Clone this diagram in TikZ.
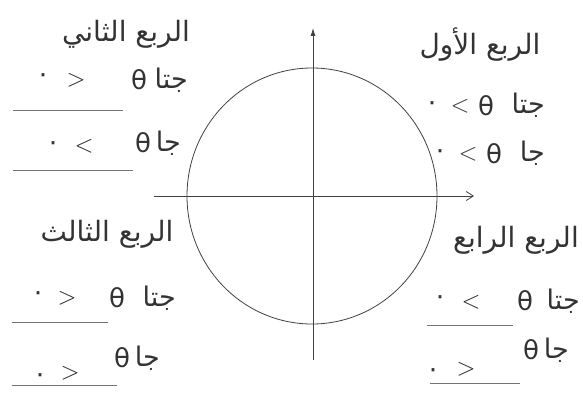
\documentclass[tikz,border=0pt]{standalone}
\usepackage{fontspec}
\newfontfamily\arabicfont[Script=Arabic]{DejaVu Sans}
\newfontfamily\symfont{DejaVu Sans}
\TeXXeTstate=1
\usetikzlibrary{arrows.meta}

\begin{document}
\begin{tikzpicture}[x=1pt,y=-1pt,
    title/.style={font=\arabicfont\fontsize{28}{30}\selectfont, text=black!80, inner sep=0pt},
    fn/.style={font=\arabicfont\fontsize{27}{29}\selectfont, text=black!80, inner sep=0pt, anchor=east},
    sym/.style={font=\symfont\fontsize{26}{28}\selectfont, text=black!80, inner sep=0pt},
    rel/.style={font=\fontsize{24}{26}\selectfont, text=black!80, inner sep=0pt},
    answer/.style={font=\fontsize{34}{36}\selectfont, text=black!85, inner sep=0pt},
    blank/.style={draw=black!55, line width=0.7pt}]

    \useasboundingbox (0,0) rectangle (583,396);

    % Circle and axes
    \coordinate (O) at (312,196);
    \draw[black!75, line width=0.8pt] (O) ellipse (125 and 128);
    \draw[black!75, line width=0.8pt, -{Straight Barb[length=7pt,width=9pt]}] (154,196) -- (474,196);
    \draw[black!75, line width=0.8pt, -{Latex[length=8pt,width=5pt]}] (313,360) -- (313,28);

    % First quadrant
    \node[title] (q1) at (480,45) {\beginR الربع الأول\endR};
    \node[fn] (q1cos) at (545,105) {\beginR جتا\endR};
    \node[sym] (q1cost) at (486,106) {θ};
    \node[rel] (q1cosr) at (460,106) {$<$};
    \node[sym] (q1cosz) at (432,106) {٠};
    \node[fn] (q1sin) at (545,153) {\beginR جا\endR};
    \node[sym] (q1sint) at (494,154) {θ};
    \node[rel] (q1sinr) at (468,154) {$<$};
    \node[sym] (q1sinz) at (440,154) {٠};

    % Second quadrant
    \node[title] (q2) at (126,34) {\beginR الربع الثاني\endR};
    \node[fn] (q2cos) at (188,80) {\beginR جتا\endR};
    \node[sym] (q2cost) at (139,80) {θ};
    \node[answer] (q2cosr) at (76,80) {$>$};
    \node[sym] (q2cosz) at (43,78) {٠};
    \draw[blank] (13,110) -- (123,110);
    \node[fn] (q2sin) at (181,143) {\beginR جا\endR};
    \node[sym] (q2sint) at (143,143) {θ};
    \node[answer] (q2sinr) at (84,146) {$<$};
    \node[sym] (q2sinz) at (53,146) {٠};
    \draw[blank] (13,170) -- (133,170);

    % Third quadrant
    \node[title] (q3) at (107,234) {\beginR الربع الثالث\endR};
    \node[fn] (q3cos) at (176,298) {\beginR جتا\endR};
    \node[sym] (q3cost) at (117,298) {θ};
    \node[answer] (q3cosr) at (67,298) {$>$};
    \node[sym] (q3cosz) at (38,296) {٠};
    \draw[blank] (12,322) -- (108,322);
    \node[fn] (q3sin) at (160,358) {\beginR جا\endR};
    \node[sym] (q3sint) at (122,358) {θ};
    \node[answer] (q3sinr) at (70,373) {$>$};
    \node[sym] (q3sinz) at (40,378) {٠};
    \draw[blank] (12,385) -- (117,385);

    % Fourth quadrant
    \node[title] (q4) at (516,240) {\beginR الربع الرابع\endR};
    \node[fn] (q4cos) at (580,301) {\beginR جتا\endR};
    \node[sym] (q4cost) at (525,301) {θ};
    \node[answer] (q4cosr) at (471,302) {$<$};
    \node[sym] (q4cosz) at (440,300) {٠};
    \draw[blank] (427,325) -- (513,325);
    \node[fn] (q4sin) at (569,350) {\beginR جا\endR};
    \node[sym] (q4sint) at (531,350) {θ};
    \node[answer] (q4sinr) at (466,369) {$>$};
    \node[sym] (q4sinz) at (433,373) {٠};
    \draw[blank] (430,383) -- (520,383);
\end{tikzpicture}
\end{document}
